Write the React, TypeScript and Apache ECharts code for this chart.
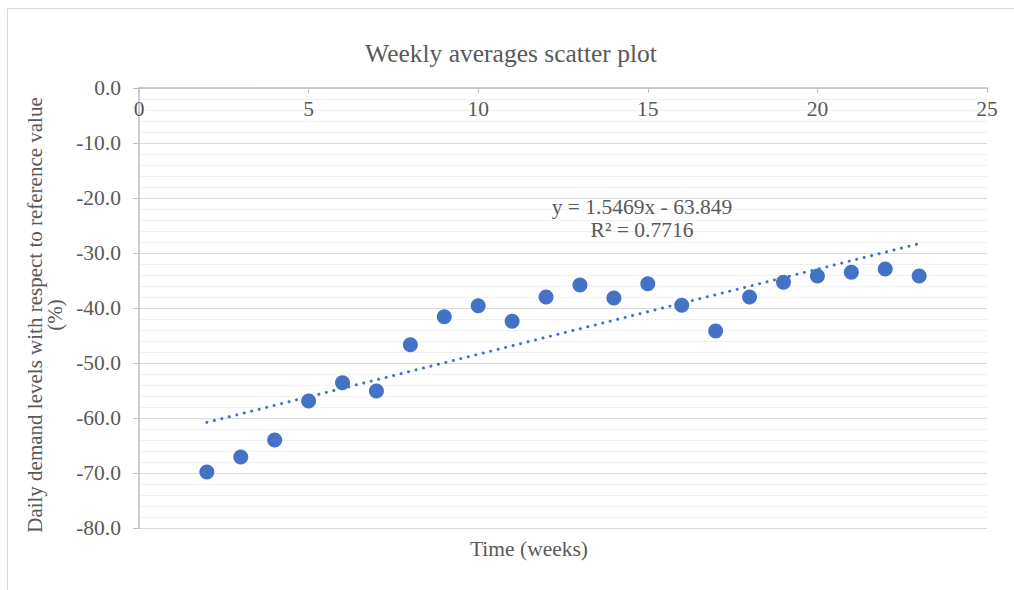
import React, { useEffect, useRef } from "react";
import * as echarts from "echarts";

const weeks = [2, 3, 4, 5, 6, 7, 8, 9, 10, 11, 12, 13, 14, 15, 16, 17, 18, 19, 20, 21, 22, 23];
const demand = [
  -69.8, -67.1, -64.0, -56.9, -53.6, -55.1, -46.7, -41.6, -39.6, -42.4, -38.0,
  -35.8, -38.2, -35.6, -39.5, -44.2, -38.0, -35.3, -34.2, -33.5, -32.9, -34.2,
];
const trendX = [2, 23];
const trendY = [-60.8, -28.3];
const xTicks = [0, 5, 10, 15, 20, 25];
const yTicks = [0, -10, -20, -30, -40, -50, -60, -70, -80];

const titleText = "Weekly averages scatter plot";
const xTitle = "Time (weeks)";
const yTitle = "Daily demand levels with respect to reference value\n(%)";
const eqText = "y = 1.5469x - 63.849\nR² = 0.7716";

const FONT = "'Liberation Serif', 'Times New Roman', serif";
const TXT = "#595959";
const FS = 21.5;

export default function App() {
  const ref = useRef<HTMLDivElement>(null);
  useEffect(() => {
    if (!ref.current) return;
    const chart = echarts.init(ref.current, undefined, { renderer: "svg" });
    chart.setOption({
      animation: false,
      backgroundColor: "#ffffff",
      textStyle: { fontFamily: FONT },
      title: {
        text: titleText,
        left: 506,
        top: 35,
        textAlign: "center",
        textStyle: { fontFamily: FONT, fontSize: 25.5, fontWeight: "normal", color: TXT },
      },
      grid: { left: 139, top: 88, width: 848, height: 440, containLabel: false },
      xAxis: {
        type: "value",
        position: "top",
        min: xTicks[0],
        max: xTicks[xTicks.length - 1],
        interval: 5,
        axisLine: { show: true, onZero: false, lineStyle: { color: "#bfbfbf", width: 1.5 } },
        axisTick: { show: true, inside: true, length: 5, lineStyle: { color: "#bfbfbf" } },
        axisLabel: {
          inside: true,
          margin: 10,
          color: TXT,
          fontFamily: FONT,
          fontSize: FS,
        },
        splitLine: { show: false },
      },
      yAxis: {
        type: "value",
        min: yTicks[yTicks.length - 1],
        max: yTicks[0],
        interval: 10,
        axisLine: { show: true, onZero: false, lineStyle: { color: "#bfbfbf", width: 1.5 } },
        axisTick: { show: true, inside: false, length: 6, lineStyle: { color: "#bfbfbf" } },
        axisLabel: {
          margin: 18,
          color: TXT,
          fontFamily: FONT,
          fontSize: FS,
          formatter: (v: number) => v.toFixed(1),
        },
        splitLine: { show: true, lineStyle: { color: "#d9d9d9", width: 1.2 } },
        minorTick: { show: false, splitNumber: 5 },
        minorSplitLine: { show: true, lineStyle: { color: "#f0f0f0", width: 1.2 } },
      },
      series: [
        {
          type: "line",
          data: trendX.map((x, i) => [x, trendY[i]]),
          showSymbol: false,
          symbol: "none",
          lineStyle: { color: "#4472C4", width: 3, type: [0.1, 7.6], cap: "round" },
          z: 3,
          silent: true,
        },
        {
          type: "scatter",
          data: weeks.map((w, i) => [w, demand[i]]),
          symbol: "circle",
          symbolSize: 15,
          itemStyle: { color: "#4472C4", opacity: 1 },
          z: 4,
        },
      ],
      graphic: [
        {
          type: "rect",
          shape: { x: 7.5, y: 8.5, width: 1010, height: 600 },
          style: { fill: "none", stroke: "#d9d9d9", lineWidth: 1 },
          silent: true,
        },
        {
          type: "text",
          x: 529,
          y: 549,
          style: {
            text: xTitle,
            fill: TXT,
            font: `${FS}px ${FONT}`,
            align: "center",
            verticalAlign: "middle",
          },
        },
        {
          type: "text",
          x: 45,
          y: 315,
          rotation: Math.PI / 2,
          style: {
            text: yTitle,
            fill: TXT,
            font: `21px ${FONT}`,
            align: "center",
            verticalAlign: "middle",
            lineHeight: 20,
          },
        },
        {
          type: "text",
          x: 642,
          y: 218,
          style: {
            text: eqText,
            fill: TXT,
            font: `${FS}px ${FONT}`,
            align: "center",
            verticalAlign: "middle",
            lineHeight: 23,
          },
          z: 10,
        },
      ],
    });
    return () => chart.dispose();
  }, []);
  return (
    <div
      ref={ref}
      style={{ position: "fixed", left: 0, top: 0, width: 1014, height: 590 }}
    />
  );
}
